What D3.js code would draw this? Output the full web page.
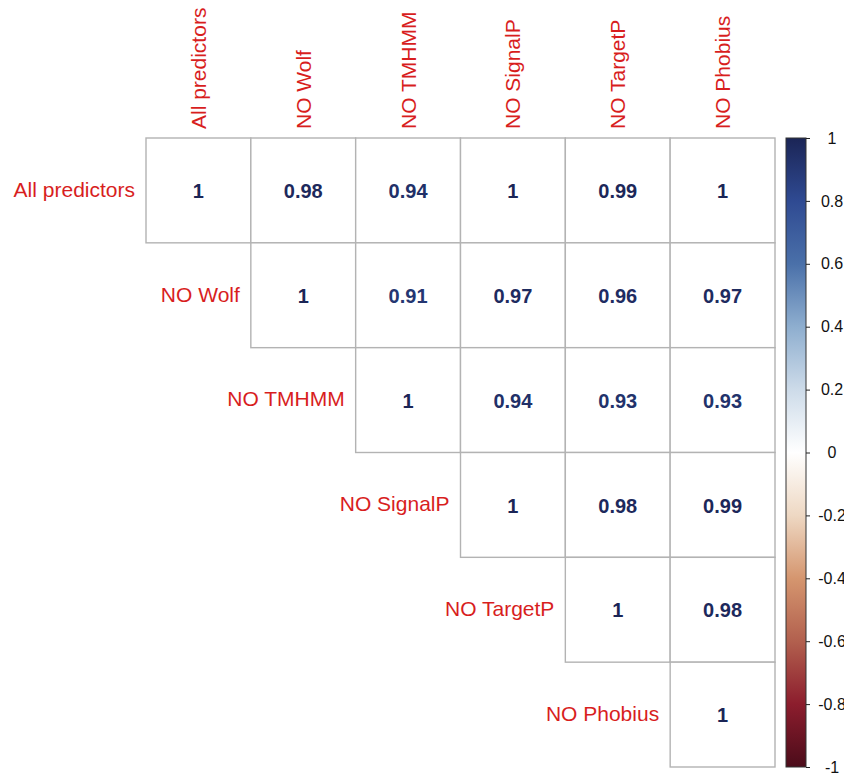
<!DOCTYPE html>
<html>
<head>
    <meta charset="utf-8">
    <style>
        body { margin: 0; background: #fff; }
        svg { display: block; font-family: "Liberation Sans", Arial, sans-serif; }
    </style>
</head>
<body>
    <script src="https://cdn.jsdelivr.net/npm/d3@7"></script>
    <script>
        const width = 844;
        const height = 774;

        const labels = ["All predictors", "NO Wolf", "NO TMHMM", "NO SignalP", "NO TargetP", "NO Phobius"];

        // upper triangle, one row each (starts at diagonal)
        const row0 = [1, 0.98, 0.94, 1, 0.99, 1];
        const row1 = [1, 0.91, 0.97, 0.96, 0.97];
        const row2 = [1, 0.94, 0.93, 0.93];
        const row3 = [1, 0.98, 0.99];
        const row4 = [1, 0.98];
        const row5 = [1];
        const rows = [row0, row1, row2, row3, row4, row5];

        const legendTicks = [1, 0.8, 0.6, 0.4, 0.2, 0, -0.2, -0.4, -0.6, -0.8, -1];
        const colorStops = [-1, -0.8, -0.6, -0.4, -0.2, 0, 0.2, 0.4, 0.6, 0.8, 1];
        const colorValues = ["#4b0c1a", "#8c1d2d", "#b2604e", "#d5966f", "#eed8c3", "#ffffff",
                             "#cddbe9", "#8eaecf", "#4a70a9", "#2f4a92", "#1b2556"];

        const x0 = 146, y0 = 138, size = 629;
        const labelColor = "#d81e1e";

        const svg = d3.select("body").append("svg")
            .attr("width", width).attr("height", height);

        const x = d3.scaleBand().domain(d3.range(labels.length)).range([x0, x0 + size]);
        const y = d3.scaleBand().domain(d3.range(labels.length)).range([y0, y0 + size]);
        const color = d3.scaleLinear().domain(colorStops).range(colorValues);

        const cells = [];
        rows.forEach((r, i) => r.forEach((v, k) => cells.push({i: i, j: i + k, v: v})));

        const g = svg.append("g");

        g.selectAll("rect.cell").data(cells).enter().append("rect")
            .attr("class", "cell")
            .attr("x", d => x(d.j))
            .attr("y", d => y(d.i))
            .attr("width", x.bandwidth())
            .attr("height", y.bandwidth())
            .attr("fill", "white")
            .attr("stroke", "#b3b3b3")
            .attr("stroke-width", 1.4);

        g.selectAll("text.num").data(cells).enter().append("text")
            .attr("class", "num")
            .attr("x", d => x(d.j) + x.bandwidth() / 2)
            .attr("y", d => y(d.i) + y.bandwidth() / 2)
            .attr("dy", "0.38em")
            .attr("text-anchor", "middle")
            .attr("font-size", 20)
            .attr("font-weight", "bold")
            .attr("fill", d => color(d.v))
            .text(d => d.v);

        // row labels, left of the diagonal
        g.selectAll("text.rowlab").data(labels).enter().append("text")
            .attr("class", "rowlab")
            .attr("x", (d, i) => x(i) - 11)
            .attr("y", (d, i) => y(i) + y.bandwidth() / 2)
            .attr("dy", "0.3em")
            .attr("text-anchor", "end")
            .attr("font-size", 21)
            .attr("fill", labelColor)
            .text(d => d);

        // column labels, rotated
        g.selectAll("text.collab").data(labels).enter().append("text")
            .attr("class", "collab")
            .attr("transform", (d, i) => `translate(${x(i) + x.bandwidth() / 2},${y0 - 9}) rotate(-90)`)
            .attr("dy", "0.36em")
            .attr("text-anchor", "start")
            .attr("font-size", 21)
            .attr("fill", labelColor)
            .text(d => d);

        // colour legend
        const lx = 786, lw = 20;
        const ly = d3.scaleLinear().domain([1, -1]).range([y0, y0 + size]);

        const grad = svg.append("defs").append("linearGradient")
            .attr("id", "cbar").attr("x1", 0).attr("x2", 0).attr("y1", 1).attr("y2", 0);
        grad.selectAll("stop").data(colorStops).enter().append("stop")
            .attr("offset", d => (d + 1) / 2)
            .attr("stop-color", d => color(d));

        svg.append("rect")
            .attr("x", lx).attr("y", ly(1))
            .attr("width", lw).attr("height", ly(-1) - ly(1))
            .attr("fill", "url(#cbar)")
            .attr("stroke", "#333").attr("stroke-width", 1);

        const ax = svg.append("g").attr("transform", `translate(${lx + lw},0)`)
            .call(d3.axisRight(ly).tickValues(legendTicks).tickSize(4).tickFormat(d => d));
        ax.select(".domain").remove();
        ax.selectAll(".tick line").attr("stroke", "#222");
        ax.selectAll(".tick text")
            .attr("x", 26)
            .attr("text-anchor", "middle")
            .attr("font-size", 16)
            .attr("font-family", "Liberation Sans, Arial, sans-serif")
            .attr("fill", "#111");
    </script>
</body>
</html>
